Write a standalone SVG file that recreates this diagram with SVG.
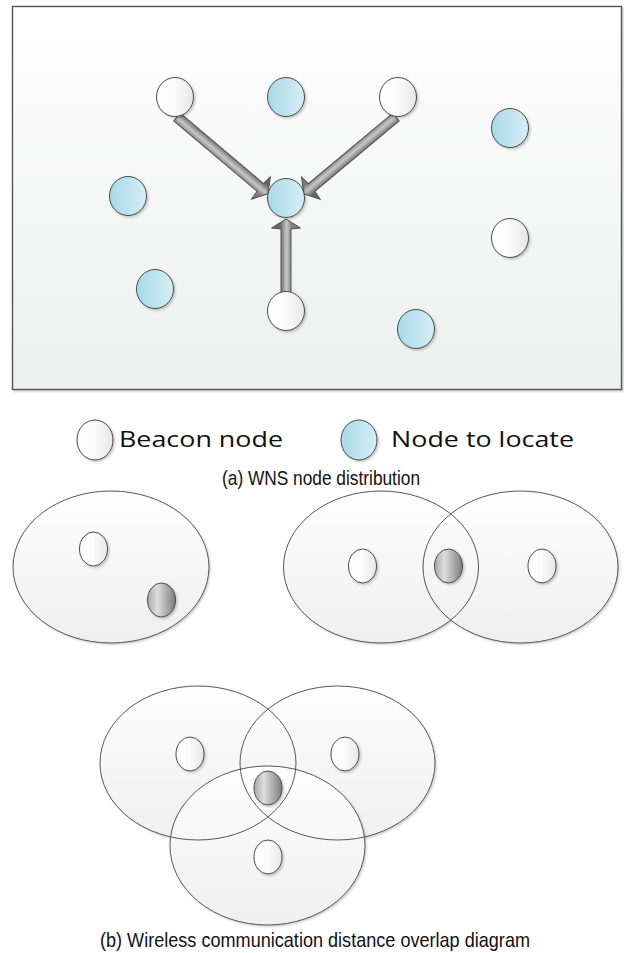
<svg xmlns="http://www.w3.org/2000/svg" width="624" height="953" viewBox="0 0 624 953">
<defs>
<linearGradient id="gFrame" x1="0" y1="0" x2="0" y2="1">
<stop offset="0" stop-color="#ffffff"/><stop offset="1" stop-color="#edeeee"/>
</linearGradient>
<linearGradient id="gWhite" x1="0" y1="0" x2="1" y2="0">
<stop offset="0" stop-color="#ffffff"/><stop offset="0.5" stop-color="#fbfbfb"/><stop offset="1" stop-color="#e6e6e6"/>
</linearGradient>
<linearGradient id="gBlue" x1="0" y1="0" x2="1" y2="0">
<stop offset="0" stop-color="#a9d9e7"/><stop offset="1" stop-color="#d6eef5"/>
</linearGradient>
<linearGradient id="gGrey" x1="0" y1="0" x2="1" y2="0">
<stop offset="0" stop-color="#a8a8a8"/><stop offset="0.35" stop-color="#dedede"/><stop offset="1" stop-color="#7c7c7c"/>
</linearGradient>
<linearGradient id="gBig" x1="0" y1="0" x2="0" y2="1">
<stop offset="0" stop-color="#fefefe"/><stop offset="1" stop-color="#efefef"/>
</linearGradient>
<linearGradient id="gShaft" gradientUnits="userSpaceOnUse" x1="-6" y1="0" x2="6" y2="0">
<stop offset="0" stop-color="#666666"/><stop offset="0.55" stop-color="#c8c8c8"/><stop offset="1" stop-color="#7e7e7e"/>
</linearGradient>
<filter id="sh" x="-20%" y="-20%" width="150%" height="150%">
<feDropShadow dx="1.5" dy="1.5" stdDeviation="1.2" flood-color="#000" flood-opacity="0.22"/>
</filter>
</defs>
<style>
.frame{fill:url(#gFrame);stroke:#555;stroke-width:1.4}
.wn{fill:url(#gWhite);stroke:#4a4a4a;stroke-width:1;filter:url(#sh)}
.bn{fill:url(#gBlue);stroke:#4a4a4a;stroke-width:1;filter:url(#sh)}
.gn{fill:url(#gGrey);stroke:#4a4a4a;stroke-width:1;filter:url(#sh)}
.big{fill:url(#gBig);stroke:none;filter:url(#sh)}
.bigs{fill:none;stroke:#444;stroke-width:0.9}
.arr{fill:url(#gShaft);stroke:#505050;stroke-width:1;stroke-linejoin:miter}
.leg{font-family:"Open Sans","DejaVu Sans",sans-serif;font-size:21px;fill:#111}
.cap{font-family:"Liberation Sans",Arial,sans-serif;font-size:21px;fill:#111}
</style>

<rect class="frame" x="12.5" y="6.5" width="609" height="383" filter="url(#sh)"/>

<g id="connectors">
<polygon class="arr" transform="translate(286,293)" points="-5,0 -5,-64 -14.5,-65 0,-74 14.5,-65 5,-64 5,0"/>
<polygon class="arr" transform="translate(177,117) rotate(130.2)" points="-5,0 -5,-109 -14.5,-110 0,-119 14.5,-110 5,-109 5,0"/>
<polygon class="arr" transform="translate(396,117) rotate(-129.9)" points="-5,0 -5,-110 -14.5,-111 0,-120 14.5,-111 5,-110 5,0"/>
</g>

<g id="n1"><ellipse class="wn" cx="175" cy="97" rx="18.5" ry="19.5"/></g>
<g id="n2"><ellipse class="bn" cx="286" cy="97" rx="18.5" ry="19.5"/></g>
<g id="n3"><ellipse class="wn" cx="398" cy="97" rx="18.5" ry="19.5"/></g>
<g id="n4"><ellipse class="bn" cx="510" cy="128" rx="18.5" ry="19.5"/></g>
<g id="n5"><ellipse class="bn" cx="128" cy="196" rx="18.5" ry="19.5"/></g>
<g id="n6"><ellipse class="bn" cx="286" cy="198" rx="18.5" ry="19.5"/></g>
<g id="n7"><ellipse class="wn" cx="510" cy="238" rx="18.5" ry="19.5"/></g>
<g id="n8"><ellipse class="bn" cx="155" cy="289" rx="18.5" ry="19.5"/></g>
<g id="n9"><ellipse class="wn" cx="286" cy="311" rx="18.5" ry="19.5"/></g>
<g id="n10"><ellipse class="bn" cx="416" cy="329" rx="18.5" ry="19.5"/></g>

<g id="legend">
<ellipse class="wn" cx="95" cy="440" rx="18" ry="20"/>
<text class="leg" x="119" y="447" textLength="164" lengthAdjust="spacingAndGlyphs">Beacon node</text>
<ellipse class="bn" cx="359" cy="440" rx="18" ry="20"/>
<text class="leg" x="391" y="447" textLength="183" lengthAdjust="spacingAndGlyphs">Node to locate</text>
</g>
<text class="cap" x="321" y="485" text-anchor="middle" textLength="198" lengthAdjust="spacingAndGlyphs">(a) WNS node distribution</text>

<g id="single">
<ellipse class="big" cx="111" cy="567" rx="98" ry="76"/>
<ellipse class="bigs" cx="111" cy="567" rx="98" ry="76"/>
<ellipse class="wn" cx="93.5" cy="549" rx="14" ry="17"/>
<ellipse class="gn" cx="161.5" cy="600" rx="14" ry="17"/>
</g>

<g id="pair">
<ellipse class="big" cx="381" cy="567" rx="97.5" ry="76"/>
<ellipse class="big" cx="520.5" cy="567" rx="97.5" ry="76"/>
<ellipse class="bigs" cx="381" cy="567" rx="97.5" ry="76"/>
<ellipse class="bigs" cx="520.5" cy="567" rx="97.5" ry="76"/>
<ellipse class="wn" cx="362.5" cy="566" rx="14" ry="17"/>
<ellipse class="gn" cx="448.5" cy="566" rx="14" ry="17"/>
<ellipse class="wn" cx="542" cy="566" rx="14" ry="17"/>
</g>

<g id="triple">
<ellipse class="big" cx="198" cy="763" rx="98" ry="77"/>
<ellipse class="big" cx="337.5" cy="763" rx="97.5" ry="77"/>
<ellipse class="big" cx="267.5" cy="845.5" rx="97.5" ry="79.5"/>
<ellipse class="bigs" cx="198" cy="763" rx="98" ry="77"/>
<ellipse class="bigs" cx="337.5" cy="763" rx="97.5" ry="77"/>
<ellipse class="bigs" cx="267.5" cy="845.5" rx="97.5" ry="79.5"/>
<ellipse class="wn" cx="190" cy="754" rx="14" ry="17"/>
<ellipse class="wn" cx="345" cy="754" rx="14" ry="17"/>
<ellipse class="gn" cx="268" cy="788" rx="14" ry="17"/>
<ellipse class="wn" cx="268" cy="857" rx="14" ry="17"/>
</g>
<text class="cap" x="315" y="947" text-anchor="middle" textLength="430" lengthAdjust="spacingAndGlyphs">(b) Wireless communication distance overlap diagram</text>
</svg>
